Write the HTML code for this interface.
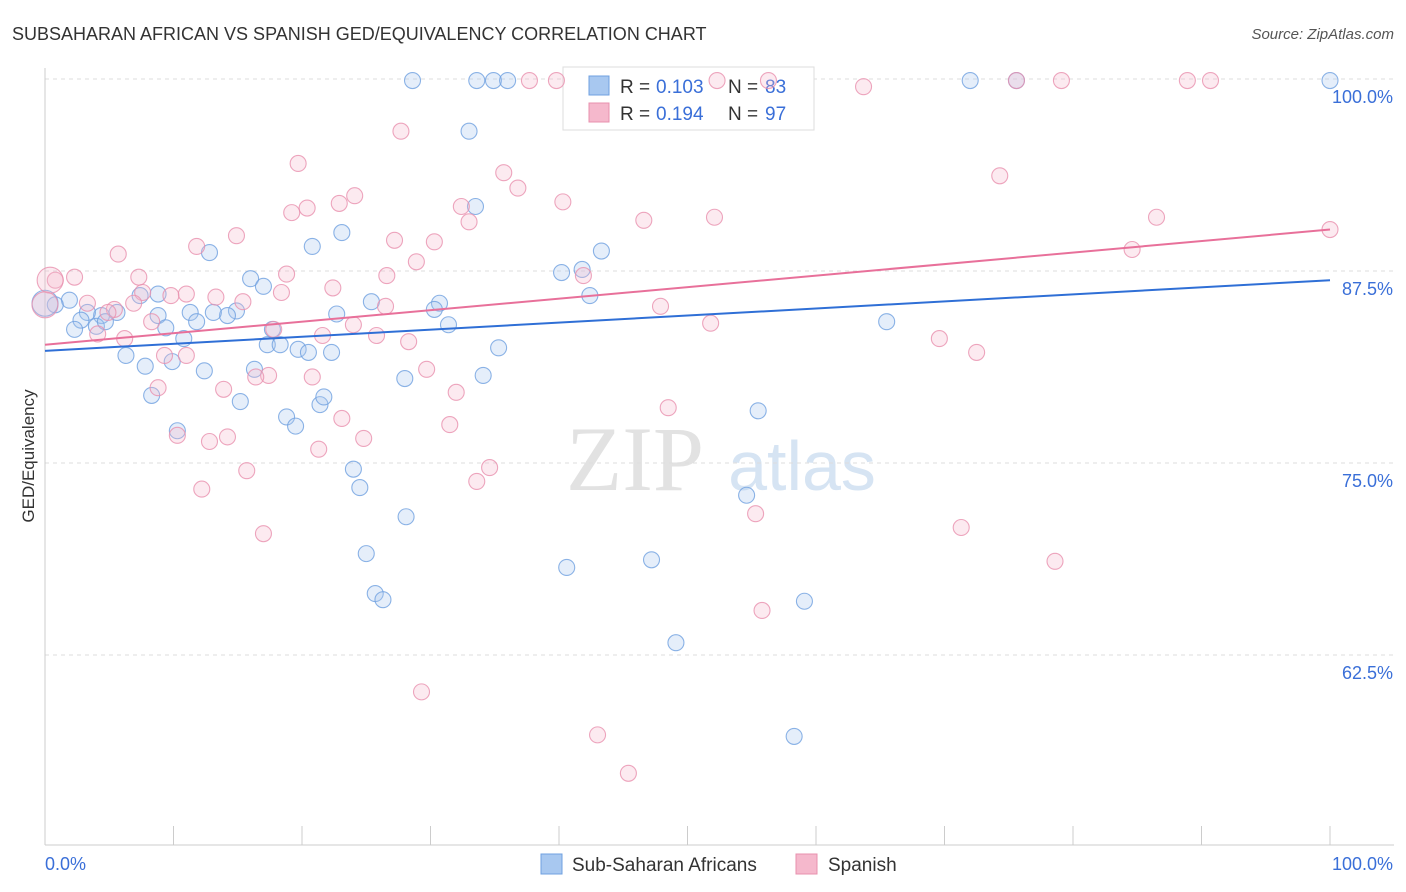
<!DOCTYPE html>
<html><head><meta charset="utf-8">
<style>
body{margin:0;background:#fff;font-family:"Liberation Sans",sans-serif;}
svg{display:block}
</style></head>
<body>
<svg id="chart" width="1406" height="892" xmlns="http://www.w3.org/2000/svg">
<text x="12" y="40" font-size="18" fill="#333">SUBSAHARAN AFRICAN VS SPANISH GED/EQUIVALENCY CORRELATION CHART</text>
<text x="1394" y="39" font-size="15" fill="#555" font-style="italic" text-anchor="end">Source: ZipAtlas.com</text>
<text x="34" y="456" font-size="17" fill="#333" text-anchor="middle" transform="rotate(-90 34 456)">GED/Equivalency</text>
<g>
<text x="635" y="490" font-size="92" fill="#e2e2e2" font-family="Liberation Serif,serif" text-anchor="middle">ZIP</text>
<text x="802" y="490" font-size="70" fill="#d6e4f3" text-anchor="middle">atlas</text>
</g>
<g id="grid"></g><g id="axes"></g>
<g>
<rect x="563" y="67" width="251" height="63" fill="#fff" stroke="#ddd"/>
<rect x="589" y="76" width="20" height="19" fill="#a8c8f0" stroke="#6fa0e0"/>
<text x="620" y="93" font-size="19" fill="#333">R =</text><text x="656" y="93" font-size="19" fill="#3a6fd8">0.103</text>
<text x="728" y="93" font-size="19" fill="#333">N =</text><text x="765" y="93" font-size="19" fill="#3a6fd8">83</text>
<rect x="589" y="103" width="20" height="19" fill="#f5b8cc" stroke="#e890ae"/>
<text x="620" y="120" font-size="19" fill="#333">R =</text><text x="656" y="120" font-size="19" fill="#3a6fd8">0.194</text>
<text x="728" y="120" font-size="19" fill="#333">N =</text><text x="765" y="120" font-size="19" fill="#3a6fd8">97</text>
</g>
<g id="pts"></g><g id="trend"></g>
<g>
<rect x="541" y="854" width="21" height="20" fill="#a8c8f0" stroke="#6fa0e0"/>
<text x="572" y="871" font-size="19" fill="#333">Sub-Saharan Africans</text>
<rect x="796" y="854" width="21" height="20" fill="#f5b8cc" stroke="#e890ae"/>
<text x="828" y="871" font-size="19" fill="#333">Spanish</text>
</g>
</svg>
<script>
const yTicks=[100,87.5,75,62.5];
const yTickLabels=["100.0%","87.5%","75.0%","62.5%"];
const xTickLabels=["0.0%","100.0%"];
const blueX=[28.6,33.6,34.9,36.0,72.0,75.6,100,33.0,33.5,23.1,20.8,12.8,43.3,40.2,41.8,16.0,17.0,42.4,8.8,7.4,1.9,0.8,25.4,30.7,30.3,14.9,14.2,13.1,11.3,8.8,5.6,4.4,3.3,2.8,4.0,2.3,4.7,9.4,11.8,22.7,31.4,17.7,10.8,17.3,18.3,19.7,20.5,22.3,35.3,6.3,9.9,7.8,16.3,12.4,28.0,34.1,8.3,15.2,21.4,21.7,18.8,19.5,10.3,55.5,65.5,24.0,24.5,54.6,28.1,25.0,40.6,47.2,25.7,26.3,59.1,49.1,58.3,0];
const blueY=[99.9,99.9,99.9,99.9,99.9,99.9,99.9,96.6,91.7,90.0,89.1,88.7,88.8,87.4,87.6,87.0,86.5,85.9,86.0,85.9,85.6,85.3,85.5,85.4,85.0,84.9,84.6,84.8,84.8,84.6,84.8,84.6,84.8,84.3,83.9,83.7,84.2,83.8,84.2,84.7,84.0,83.7,83.1,82.7,82.7,82.4,82.2,82.2,82.5,82.0,81.6,81.3,81.1,81.0,80.5,80.7,79.4,79.0,78.8,79.3,78.0,77.4,77.1,78.4,84.2,74.6,73.4,72.9,71.5,69.1,68.2,68.7,66.5,66.1,66.0,63.3,57.2,85.4];
const blueBig=[77];
const pinkX=[37.7,39.8,52.3,56.3,63.7,75.6,79.1,88.9,90.7,27.7,19.7,35.7,36.8,24.1,22.9,40.3,32.4,33.0,20.4,19.2,52.1,46.6,74.3,86.5,100,84.6,14.9,11.8,27.2,30.3,28.9,5.7,0.8,2.3,7.3,18.8,26.6,41.9,22.4,18.4,7.6,9.8,11.0,13.3,15.4,3.3,6.9,5.4,4.9,26.5,47.9,8.3,24.0,51.8,17.8,21.6,25.8,28.3,4.1,6.2,69.6,72.5,9.3,11.0,29.7,17.4,16.4,20.8,8.8,13.9,32.0,48.5,23.1,31.5,14.2,12.8,10.3,21.3,24.8,34.6,33.6,15.7,12.2,55.3,71.3,17.0,78.6,55.8,29.3,43.0,45.4,0.4,0];
const pinkY=[99.9,99.9,99.9,99.9,99.5,99.9,99.9,99.9,99.9,96.6,94.5,93.9,92.9,92.4,91.9,92.0,91.7,90.7,91.6,91.3,91.0,90.8,93.7,91.0,90.2,88.9,89.8,89.1,89.5,89.4,88.1,88.6,86.9,87.1,87.1,87.3,87.2,87.2,86.4,86.1,86.1,85.9,86.0,85.8,85.5,85.4,85.4,85.0,84.8,85.2,85.2,84.2,84.0,84.1,83.7,83.3,83.3,82.9,83.4,83.1,83.1,82.2,82.0,82.0,81.1,80.7,80.6,80.6,79.9,79.8,79.6,78.6,77.9,77.5,76.7,76.4,76.8,75.9,76.6,74.7,73.8,74.5,73.3,71.7,70.8,70.4,68.6,65.4,60.1,57.3,54.8,86.9,85.3];
const pinkBig=[91,92];
const blueTrend=[82.3,86.9];
const pinkTrend=[82.7,90.2];

const NS="http://www.w3.org/2000/svg";
const X0=45,X1=1330,Y100=79,PX=15.36;
const xs=v=>X0+(X1-X0)*v/100;
const ys=v=>Y100+(100-v)*PX;
function mk(tag,parent,attrs){const e=document.createElementNS(NS,tag);for(const k in attrs)e.setAttribute(k,attrs[k]);parent.appendChild(e);return e;}
const grid=document.getElementById('grid'),axes=document.getElementById('axes'),pts=document.getElementById('pts'),trend=document.getElementById('trend');
yTicks.forEach((t,i)=>{
  const l=mk('line',grid,{x1:X0,x2:1394,y1:ys(t),y2:ys(t),stroke:'#ddd','stroke-dasharray':'4 4'});
  
  
  const tx=mk('text',axes,{x:1393,y:ys(t)+24,'font-size':18,fill:'#3a6fd8','text-anchor':'end'});
  tx.textContent=yTickLabels[i];
  
  
});
const ax=mk('line',axes,{x1:X0,x2:1394,y1:845,y2:845,stroke:'#ccc'});


const ay=mk('line',axes,{x1:X0,x2:X0,y1:68,y2:845,stroke:'#ccc'});


for(let i=0;i<=10;i++){
  const t=mk('line',axes,{x1:xs(i*10),x2:xs(i*10),y1:826,y2:845,stroke:'#ccc'});
  
  
}
[[0,'start',45],[100,'end',1393]].forEach((d,i)=>{
  const t=mk('text',axes,{x:d[2],y:870,'font-size':18,fill:'#3a6fd8','text-anchor':d[1]});
  t.textContent=xTickLabels[i];
  
  
});
function series(X,Y,big,fill,stroke,name){
  X.forEach((x,i)=>{
    const c=mk('circle',pts,{cx:xs(x),cy:ys(Y[i]),r:big.includes(i)?13:8,fill:fill,'fill-opacity':0.3,stroke:stroke,'stroke-opacity':0.8,'stroke-width':1.1});
    
    
  });
}
series(blueX,blueY,blueBig,'#a8c8f0','#6fa0e0','sub-saharan-point');
series(pinkX,pinkY,pinkBig,'#f5b8cc','#e890ae','spanish-point');
const tb=mk('line',trend,{x1:xs(0),y1:ys(blueTrend[0]),x2:xs(100),y2:ys(blueTrend[1]),stroke:'#2f6fd6','stroke-width':2});


const tp=mk('line',trend,{x1:xs(0),y1:ys(pinkTrend[0]),x2:xs(100),y2:ys(pinkTrend[1]),stroke:'#e8709a','stroke-width':2});


</script>
</body></html>
